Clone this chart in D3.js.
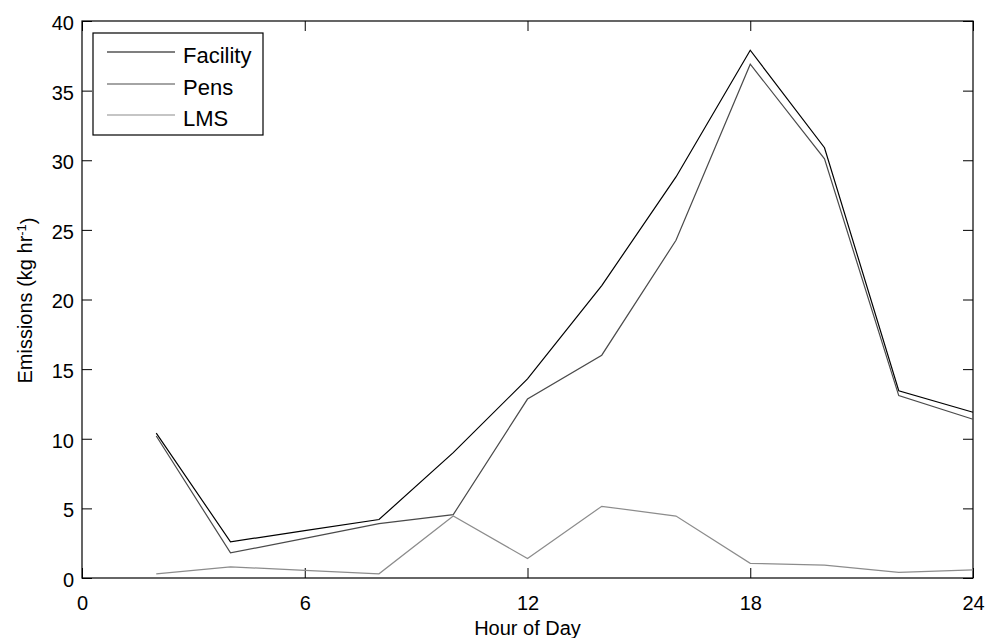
<!DOCTYPE html>
<html>
<head>
<meta charset="utf-8">
<script src="https://cdn.jsdelivr.net/npm/d3@7"></script>
<style>
  html, body { margin: 0; padding: 0; background: #fff; }
  svg { display: block; font-family: "Liberation Sans", Arial, sans-serif; }
</style>
</head>
<body>
<svg id="chart" width="987" height="638"></svg>
<script>
// Hourly emissions (kg/hr) by source
const hours    = [2, 4, 6, 8, 10, 12, 14, 16, 18, 20, 22, 24];
const facility = [10.4, 2.6, 3.4, 4.2, 9.0, 14.3, 21.0, 28.8, 37.9, 30.9, 13.45, 11.9];
const pens     = [10.2, 1.8, 2.85, 3.9, 4.55, 12.85, 16.0, 24.25, 36.9, 30.1, 13.1, 11.4];
const lms      = [0.3, 0.8, 0.55, 0.3, 4.45, 1.4, 5.15, 4.45, 1.05, 0.93, 0.4, 0.58];

const seriesNames = ["Facility", "Pens", "LMS"];
const seriesColors = ["#000000", "#4a4a4a", "#8c8c8c"];
const xTicks = [0, 6, 12, 18, 24];
const yTicks = [0, 5, 10, 15, 20, 25, 30, 35, 40];

const svg = d3.select("#chart");
const plotLeft = 82, plotRight = 973, plotTop = 21, plotBottom = 578;

const x = d3.scaleLinear().domain([0, 24]).range([plotLeft, plotRight]);
const y = d3.scaleLinear().domain([0, 40]).range([plotBottom, plotTop]);

const fontSize = 20;

// Frame
svg.append("rect")
  .attr("x", plotLeft).attr("y", plotTop)
  .attr("width", plotRight - plotLeft).attr("height", plotBottom - plotTop)
  .attr("fill", "none").attr("stroke", "#000").attr("stroke-width", 1.2);

// Inward ticks on all four sides
function styleAxis(g, showLabels) {
  g.select(".domain").remove();
  g.selectAll(".tick line").attr("stroke", "#000").attr("stroke-width", 1);
  g.selectAll(".tick text")
    .attr("fill", "#000")
    .style("font-size", fontSize + "px")
    .style("font-family", "'Liberation Sans', Arial, sans-serif");
  if (!showLabels) g.selectAll(".tick text").remove();
}

svg.append("g")
  .attr("transform", `translate(0,${plotBottom})`)
  .call(d3.axisBottom(x).tickValues(xTicks).tickSizeInner(-10).tickSizeOuter(0).tickPadding(18).tickFormat(d3.format("d")))
  .call(g => styleAxis(g, true));

svg.append("g")
  .attr("transform", `translate(0,${plotTop})`)
  .call(d3.axisTop(x).tickValues(xTicks).tickSizeInner(-10).tickSizeOuter(0))
  .call(g => styleAxis(g, false));

svg.append("g")
  .attr("transform", `translate(${plotLeft},0)`)
  .call(d3.axisLeft(y).tickValues(yTicks).tickSizeInner(-10).tickSizeOuter(0).tickPadding(8).tickFormat(d3.format("d")))
  .call(g => {
    styleAxis(g, true);
    g.selectAll(".tick text").attr("dy", "0.42em");
  });

svg.append("g")
  .attr("transform", `translate(${plotRight},0)`)
  .call(d3.axisRight(y).tickValues(yTicks).tickSizeInner(-10).tickSizeOuter(0))
  .call(g => styleAxis(g, false));

// Series lines
const line = d3.line().x((d, i) => x(hours[i])).y(d => y(d));
const allSeries = [facility, pens, lms];

allSeries.forEach((vals, k) => {
  svg.append("path")
    .datum(vals)
    .attr("d", line)
    .attr("fill", "none")
    .attr("stroke", seriesColors[k])
    .attr("stroke-width", 1.2)
    .attr("stroke-linejoin", "miter");
});

// Axis labels
svg.append("text")
  .attr("x", (plotLeft + plotRight) / 2)
  .attr("y", 635)
  .attr("text-anchor", "middle")
  .style("font-size", fontSize + "px")
  .text("Hour of Day");

const yl = svg.append("text")
  .attr("transform", `translate(32,${(plotTop + plotBottom) / 2 + 1}) rotate(-90)`)
  .attr("text-anchor", "middle")
  .style("font-size", fontSize + "px");
yl.append("tspan").text("Emissions (kg hr");
yl.append("tspan").attr("dy", "-0.45em").style("font-size", "13px").text("-1");
yl.append("tspan").attr("dy", "0.45em").text(")");

// Legend
const legend = svg.append("g");
legend.append("rect")
  .attr("x", 93).attr("y", 33)
  .attr("width", 170).attr("height", 102)
  .attr("fill", "#fff").attr("stroke", "#000").attr("stroke-width", 1.2);

const rowY = [52, 84, 115];
seriesNames.forEach((name, k) => {
  legend.append("line")
    .attr("x1", 107).attr("x2", 175)
    .attr("y1", rowY[k]).attr("y2", rowY[k])
    .attr("stroke", seriesColors[k]).attr("stroke-width", 1.2);
  legend.append("text")
    .attr("x", 183).attr("y", rowY[k] + 10.5)
    .style("font-size", "22px")
    .text(name);
});
</script>
</body>
</html>
